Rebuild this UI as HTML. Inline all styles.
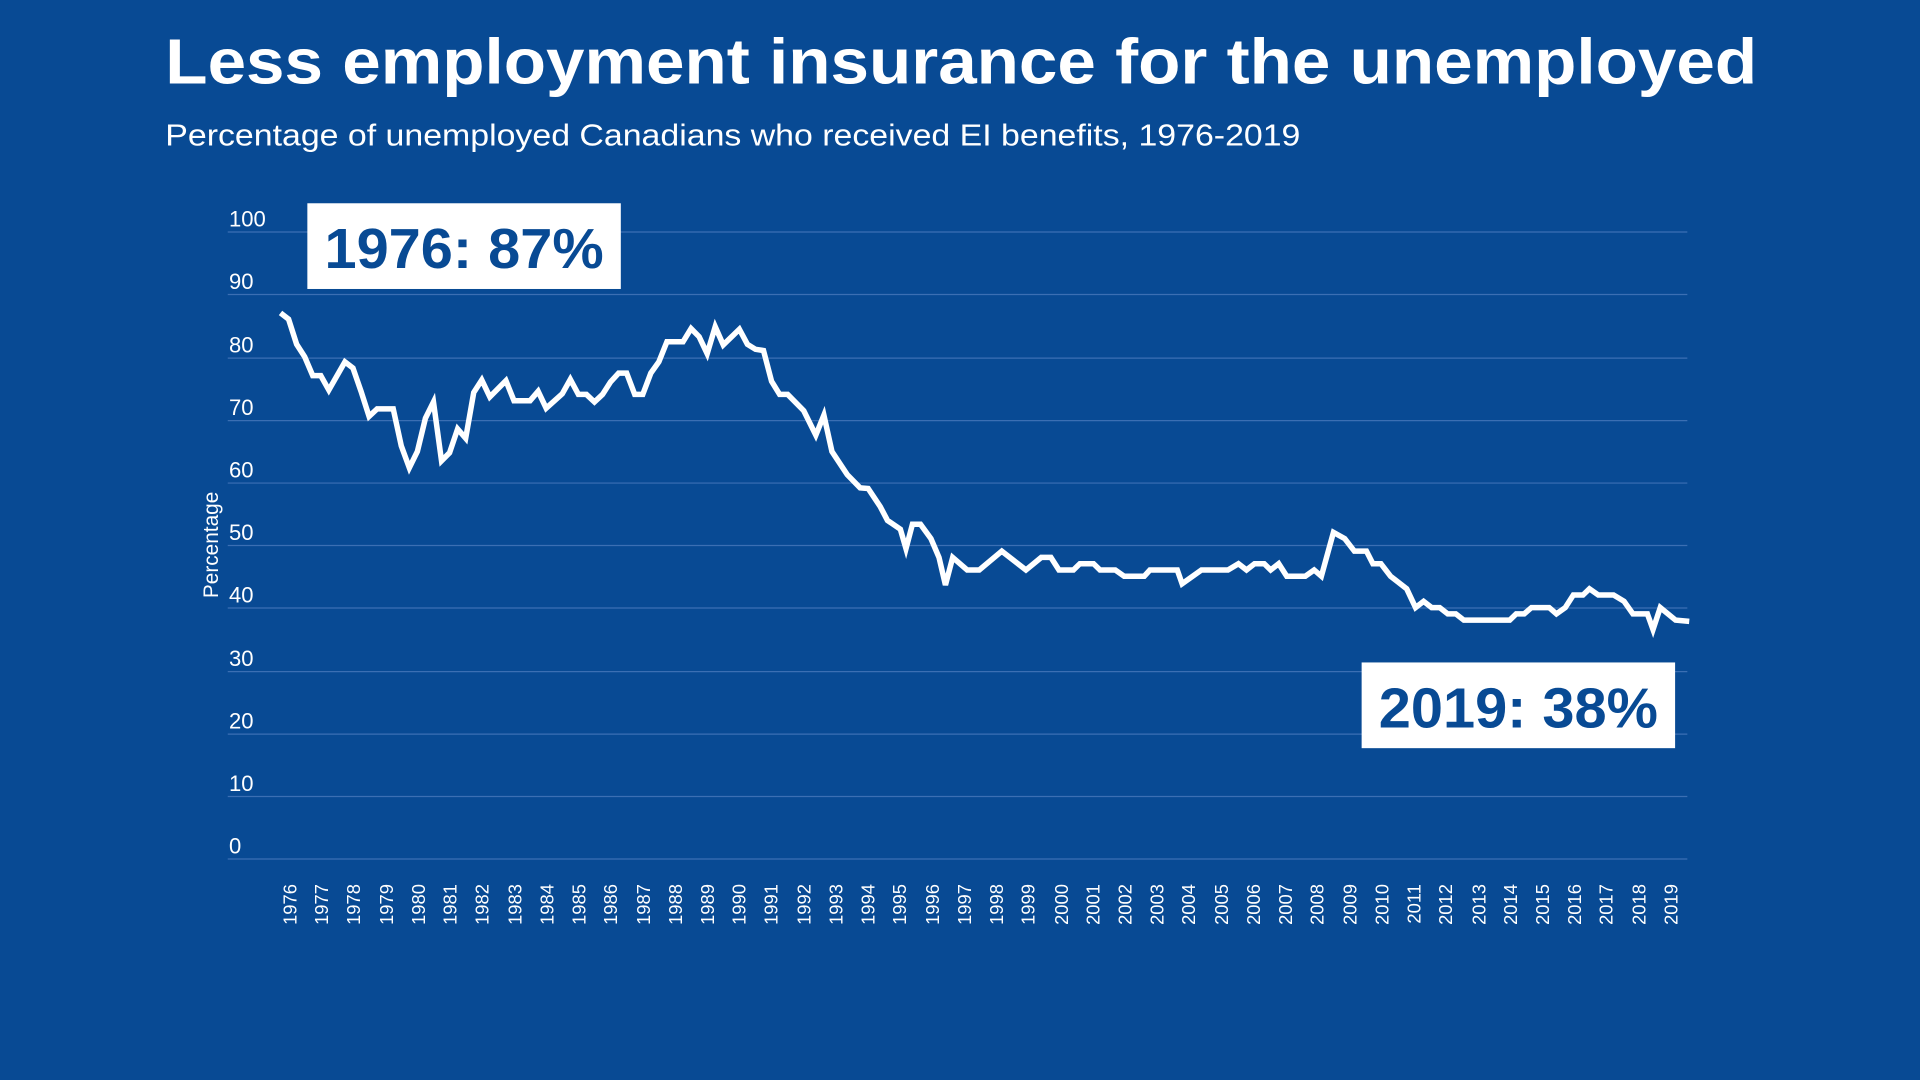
<!DOCTYPE html>
<html><head><meta charset="utf-8"><style>
html,body{margin:0;padding:0;background:#084a94;}
svg{display:block;}
text{font-family:"Liberation Sans",Arial,sans-serif;}
</style></head><body>
<svg width="1920" height="1080" viewBox="0 0 1568 882" xmlns="http://www.w3.org/2000/svg">
<rect width="1568" height="882" fill="#084a94"/>
<text x="135" y="68" fill="#fff" font-size="52" font-weight="bold" textLength="1300" lengthAdjust="spacingAndGlyphs">Less employment insurance for the unemployed</text>
<text x="135" y="119" fill="#fff" font-size="25" textLength="927" lengthAdjust="spacingAndGlyphs">Percentage of unemployed Canadians who received EI benefits, 1976-2019</text>
<g stroke="#3b6fb3" stroke-width="1">
<line x1="186" x2="1378" y1="189.5" y2="189.5"/><line x1="186" x2="1378" y1="240.5" y2="240.5"/>
<line x1="186" x2="1378" y1="292.5" y2="292.5"/><line x1="186" x2="1378" y1="343.5" y2="343.5"/>
<line x1="186" x2="1378" y1="394.5" y2="394.5"/><line x1="186" x2="1378" y1="445.5" y2="445.5"/>
<line x1="186" x2="1378" y1="496.5" y2="496.5"/><line x1="186" x2="1378" y1="548.5" y2="548.5"/>
<line x1="186" x2="1378" y1="599.5" y2="599.5"/><line x1="186" x2="1378" y1="650.5" y2="650.5"/>
<line x1="186" x2="1378" y1="701.5" y2="701.5"/>
</g>
<g fill="#fff" font-size="18">
<text x="187" y="185">100</text><text x="187" y="236">90</text><text x="187" y="288">80</text>
<text x="187" y="339">70</text><text x="187" y="390">60</text><text x="187" y="441">50</text>
<text x="187" y="492">40</text><text x="187" y="544">30</text><text x="187" y="595">20</text>
<text x="187" y="646">10</text><text x="187" y="697">0</text>
</g>
<text transform="translate(178,445) rotate(-90)" fill="#fff" font-size="17" text-anchor="middle">Percentage</text>
<g fill="#fff" font-size="15" text-anchor="end">
<text transform="translate(242,722) rotate(-90)">1976</text>
<text transform="translate(268,722) rotate(-90)">1977</text>
<text transform="translate(294,722) rotate(-90)">1978</text>
<text transform="translate(321,722) rotate(-90)">1979</text>
<text transform="translate(347,722) rotate(-90)">1980</text>
<text transform="translate(373,722) rotate(-90)">1981</text>
<text transform="translate(399,722) rotate(-90)">1982</text>
<text transform="translate(426,722) rotate(-90)">1983</text>
<text transform="translate(452,722) rotate(-90)">1984</text>
<text transform="translate(478,722) rotate(-90)">1985</text>
<text transform="translate(504,722) rotate(-90)">1986</text>
<text transform="translate(531,722) rotate(-90)">1987</text>
<text transform="translate(557,722) rotate(-90)">1988</text>
<text transform="translate(583,722) rotate(-90)">1989</text>
<text transform="translate(609,722) rotate(-90)">1990</text>
<text transform="translate(635,722) rotate(-90)">1991</text>
<text transform="translate(662,722) rotate(-90)">1992</text>
<text transform="translate(688,722) rotate(-90)">1993</text>
<text transform="translate(714,722) rotate(-90)">1994</text>
<text transform="translate(740,722) rotate(-90)">1995</text>
<text transform="translate(767,722) rotate(-90)">1996</text>
<text transform="translate(793,722) rotate(-90)">1997</text>
<text transform="translate(819,722) rotate(-90)">1998</text>
<text transform="translate(845,722) rotate(-90)">1999</text>
<text transform="translate(872,722) rotate(-90)">2000</text>
<text transform="translate(898,722) rotate(-90)">2001</text>
<text transform="translate(924,722) rotate(-90)">2002</text>
<text transform="translate(950,722) rotate(-90)">2003</text>
<text transform="translate(976,722) rotate(-90)">2004</text>
<text transform="translate(1003,722) rotate(-90)">2005</text>
<text transform="translate(1029,722) rotate(-90)">2006</text>
<text transform="translate(1055,722) rotate(-90)">2007</text>
<text transform="translate(1081,722) rotate(-90)">2008</text>
<text transform="translate(1108,722) rotate(-90)">2009</text>
<text transform="translate(1134,722) rotate(-90)">2010</text>
<text transform="translate(1160,722) rotate(-90)">2011</text>
<text transform="translate(1186,722) rotate(-90)">2012</text>
<text transform="translate(1213,722) rotate(-90)">2013</text>
<text transform="translate(1239,722) rotate(-90)">2014</text>
<text transform="translate(1265,722) rotate(-90)">2015</text>
<text transform="translate(1291,722) rotate(-90)">2016</text>
<text transform="translate(1317,722) rotate(-90)">2017</text>
<text transform="translate(1344,722) rotate(-90)">2018</text>
<text transform="translate(1370,722) rotate(-90)">2019</text>
</g>
<g transform="translate(229.1,701) scale(6.574,-5.12)">
<polyline fill="none" stroke="#fff" stroke-width="5.5" vector-effect="non-scaling-stroke" stroke-linejoin="miter" points="0,87 1,86 2,82 3,80 4,77 5,77 6,74.7 8,79.2 9,78.2 10,74.5 11,70.5 12,71.7 14,71.7 15,65.8 16,62.3 17,64.9 18,70.2 19,72.8 20,63.4 21,64.7 22,68.5 23,67 24,74.3 25,76.3 26,73.6 28,76.2 29,73 31,73 32,74.5 33,71.8 35,74.1 36,76.4 37,74 38,74 39,72.8 40,74 41,76 42,77.4 43,77.4 44,74 45,74 46,77.4 47,79.2 48,82.4 50,82.4 51,84.5 52,83.2 53,80.5 54,84.8 55,81.9 57,84.4 58,82 59,81.2 60,81 61,76.1 62,74 63,74 65,71.4 66.5,67.5 67.5,70.7 68.5,64.9 70.4,61.2 72,59.1 73,59 74.5,56.1 75.4,53.9 77,52.5 77.7,49.4 78.5,53.3 79.5,53.3 80.8,51 81.8,48 82.6,43.6 83.5,48 85.3,46 86.8,46 89.6,49 92.6,46 94.5,48 95.7,48 96.7,46 98.5,46 99.3,47 101,47 101.8,46 103.7,46 104.8,45 107.3,45 108,46 111.4,46 112,43.8 114.4,46 117.7,46 119,47 120,46 121,47 122.2,47 123,46 124,47 125,45 127.3,45 128.4,46 129.3,45 130.8,52 132.2,51 133.4,49 134.9,49 135.7,47 136.7,47 137.9,45 139.9,43 141,40 142,41 143,40 144,40 145,39 146,39 147,38 152.7,38 153.5,39 154.5,39 155.4,40 157.6,40 158.5,39 159.6,40 160.6,42 161.8,42 162.6,43 163.7,42 165.6,42 166.9,41 168,39 169.8,39 170.5,36.5 171.4,40 173.3,38 175,37.8"/>
</g>
<rect x="251" y="166" width="256" height="70" fill="#fff"/>
<text x="379" y="219" fill="#084a94" font-size="46" font-weight="bold" text-anchor="middle" textLength="228" lengthAdjust="spacingAndGlyphs">1976: 87%</text>
<rect x="1112" y="541" width="256" height="70" fill="#fff"/>
<text x="1240" y="594" fill="#084a94" font-size="46" font-weight="bold" text-anchor="middle" textLength="228" lengthAdjust="spacingAndGlyphs">2019: 38%</text>
</svg>
</body></html>
